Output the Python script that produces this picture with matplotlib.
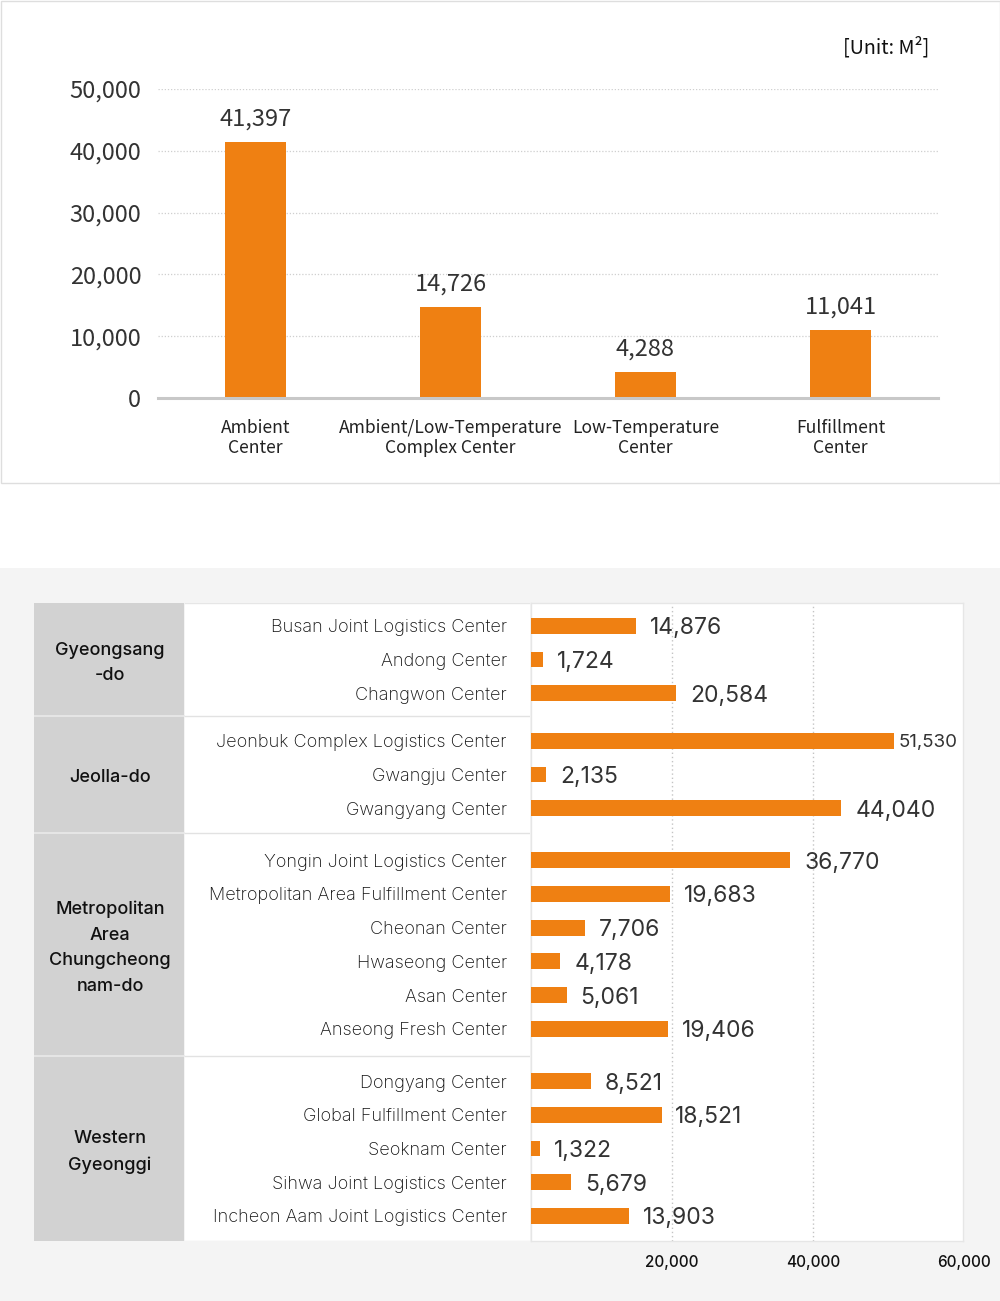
import matplotlib
matplotlib.use("Agg")
import matplotlib.pyplot as plt
from matplotlib.patches import Rectangle
from matplotlib.lines import Line2D
from matplotlib.transforms import ScaledTranslation

# ---------------- data ----------------
top_categories = ["Ambient\nCenter", "Ambient/Low-Temperature\nComplex Center",
                  "Low-Temperature\nCenter", "Fulfillment\nCenter"]
top_values = [41397, 14726, 4288, 11041]
top_yticks = [0, 10000, 20000, 30000, 40000, 50000]

regions = ["Gyeongsang\n-do", "Jeolla-do", "Metropolitan\nArea\nChungcheong\nnam-do",
           "Western\nGyeonggi"]
region_sizes = [3, 3, 6, 5]
centers = ["Busan Joint Logistics Center", "Andong Center", "Changwon Center",
           "Jeonbuk Complex Logistics Center", "Gwangju Center", "Gwangyang Center",
           "Yongin Joint Logistics Center", "Metropolitan Area Fulfillment Center",
           "Cheonan Center", "Hwaseong Center", "Asan Center", "Anseong Fresh Center",
           "Dongyang Center", "Global Fulfillment Center", "Seoknam Center",
           "Sihwa Joint Logistics Center", "Incheon Aam Joint Logistics Center"]
center_values = [14876, 1724, 20584, 51530, 2135, 44040, 36770, 19683, 7706, 4178,
                 5061, 19406, 8521, 18521, 1322, 5679, 13903]
bottom_xticks = [20000, 40000, 60000]

ORANGE = "#EF8012"
W, H = 1000, 1301
TOPFONT = ["Noto Sans CJK KR", "DejaVu Sans"]
BOTFONT = ["Inter", "DejaVu Sans"]

fig = plt.figure(figsize=(W / 100, H / 100), dpi=100)
fig.patch.set_facecolor("white")

def fx(px):
    return px / W

def fy(py):
    return 1 - py / H

# top panel border
fig.add_artist(Rectangle((fx(0.5), fy(483)), fx(999), 482 / H, transform=fig.transFigure,
                         facecolor="none", edgecolor="#dedede", lw=1, zorder=-5))
# bottom gray panel
fig.add_artist(Rectangle((0, 0), 1, fy(568), transform=fig.transFigure,
                         facecolor="#f4f4f4", edgecolor="none", zorder=-10))

# ---------------- top chart ----------------
ax1 = fig.add_axes([fx(158), fy(398), fx(938 - 158), (398 - 89) / H])
ax1.set_facecolor("none")
xs = list(range(len(top_values)))
ax1.bar(xs, top_values, width=0.31, color=ORANGE, zorder=3)
ax1.set_xlim(-0.5, len(top_values) - 0.5)
ax1.set_ylim(0, 50000)
ax1.set_yticks(top_yticks)
ax1.set_yticklabels([f"{v:,}" for v in top_yticks], family=TOPFONT, fontsize=17,
                    fontweight="light", color="#333333")
ax1.set_xticks(xs)
ax1.set_xticklabels(top_categories, family=TOPFONT, fontsize=12.6, color="#222222",
                    linespacing=1.12)
ax1.tick_params(axis="both", length=0)
ax1.tick_params(axis="y", pad=12)
ax1.tick_params(axis="x", pad=15)
for s in ["top", "right", "left"]:
    ax1.spines[s].set_visible(False)
ax1.spines["bottom"].set_color("#c8c8c8")
ax1.spines["bottom"].set_linewidth(2.2)
ax1.spines["bottom"].set_zorder(4)
ax1.yaxis.grid(True, linestyle=(0, (1, 1.5)), color="#cfcfcf", lw=0.9, zorder=0)
ax1.set_axisbelow(True)
for x, v in zip(xs, top_values):
    ax1.annotate(f"{v:,}", (x, v), xytext=(0, 8), textcoords="offset points",
                 ha="center", va="bottom", family=TOPFONT, fontsize=17,
                 fontweight="light", color="#333333")

fig.text(fx(929), fy(48), "[Unit: M²]", ha="right", va="center", family=TOPFONT,
         fontsize=14.2, color="#111111")

# ---------------- bottom chart ----------------
pads = [0.176, 0.236, 0.309, 0.245]
ypos = []
group_bounds = []
cur = 0.0
for n, pad in zip(region_sizes, pads):
    start = cur
    cur += pad
    for i in range(n):
        ypos.append(cur + 0.5 + i)
    cur += n + pad
    group_bounds.append((start, cur))
total = cur

ax_top_px, ax_bot_px = 603, 1241
ax2 = fig.add_axes([fx(531), fy(ax_bot_px), fx(963 - 531), (ax_bot_px - ax_top_px) / H])
ax2.set_facecolor("white")
ax2.barh(ypos, center_values, height=0.47, color=ORANGE, zorder=3)
ax2.set_xlim(0, 61300)
ax2.set_ylim(total, 0)
ax2.set_yticks([])
ax2.set_xticks(bottom_xticks)
ax2.set_xticklabels([f"{v:,}" for v in bottom_xticks], family=BOTFONT, fontsize=11,
                    fontweight="medium", color="#111111")
ax2.tick_params(axis="x", length=0, pad=10)
for s in ax2.spines.values():
    s.set_color("#e6e6e6")
    s.set_linewidth(1)
ax2.xaxis.grid(True, linestyle=(0, (1, 2)), color="#c4c4c4", lw=1.0, zorder=0)
ax2.get_xgridlines()[-1].set_visible(False)
last = ax2.get_xticklabels()[-1]
last.set_transform(last.get_transform() + ScaledTranslation(10 / 100, 0, fig.dpi_scale_trans))
for y, v in zip(ypos, center_values):
    wide = v > 50000
    ax2.annotate(f"{v:,}", (v, y), xytext=(3 if wide else 10, 0),
                 textcoords="offset points", ha="left", va="center_baseline",
                 family=BOTFONT, fontsize=13.5 if wide else 16.5,
                 fontweight="normal", color="#333333")

# table part (region column + center name column)
axt = fig.add_axes([fx(34), fy(ax_bot_px), fx(530 - 34), (ax_bot_px - ax_top_px) / H])
axt.set_xlim(34, 530)
axt.set_ylim(total, 0)
axt.axis("off")
axt.add_patch(Rectangle((34, 0), 150, total, facecolor="#d2d2d2", edgecolor="none"))
axt.add_patch(Rectangle((185, 0), 345, total, facecolor="white", edgecolor="none"))
axt.add_line(Line2D([185, 530], [0, 0], color="#e6e6e6", lw=1))
axt.add_line(Line2D([185, 530], [total, total], color="#e6e6e6", lw=1))
for (start, end), name in zip(group_bounds, regions):
    if start > 0:
        axt.add_line(Line2D([34, 184], [start, start], color="#e9e9e9", lw=1.2))
        axt.add_line(Line2D([185, 530], [start, start], color="#e2e2e2", lw=1))
    axt.text(110, (start + end) / 2 + 0.1, name, ha="center", va="center",
             family=BOTFONT, fontsize=13, fontweight="medium", color="#111111",
             linespacing=1.65)
for y, name in zip(ypos, centers):
    axt.text(507, y, name, ha="right", va="center_baseline", family=BOTFONT, fontsize=13,
             fontweight="light", color="#111111")

fig.savefig("out.png", dpi=100)
